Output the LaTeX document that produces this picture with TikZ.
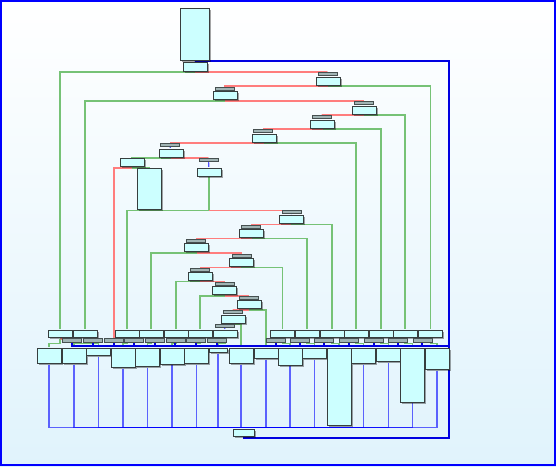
\documentclass[tikz,border=0pt]{standalone}
\usepackage{tikz}
\usepackage{xcolor}
\usetikzlibrary{shadows,backgrounds}

\definecolor{blockfill}{RGB}{204,255,255}
\definecolor{blockline}{RGB}{55,62,62}
\definecolor{hdrfill}{RGB}{160,180,180}
\definecolor{hdrline}{RGB}{70,80,80}
\definecolor{jmpblue}{RGB}{80,80,255}
\definecolor{farblue}{RGB}{0,0,225}
\definecolor{yesgreen}{RGB}{118,194,118}
\definecolor{nored}{RGB}{255,125,125}
\definecolor{bgblue}{RGB}{224,243,252}

\begin{document}
\begin{tikzpicture}[x=1pt, y=-1pt,
    blk/.style={rectangle, draw=blockline, fill=blockfill, line width=0.8pt, inner sep=0pt, outer ysep=1.2pt, minimum width=24pt, minimum height=8pt, drop shadow={shadow xshift=1.6pt, shadow yshift=-1.6pt, opacity=0.35, fill=black}},
    hdr/.style={rectangle, draw=hdrline, fill=hdrfill, line width=0.6pt, inner sep=0pt, minimum width=19pt, minimum height=3pt},
    jmpline/.style={draw=jmpblue, line width=1.2pt},
    retline/.style={draw=blue, line width=1.3pt, opacity=0.6},
    farline/.style={draw=farblue, line width=2pt},
    yesline/.style={draw=yesgreen, line width=1.7pt},
    noline/.style={draw=nored, line width=1.7pt}]
    \useasboundingbox (0,0) rectangle (556,466);
    \begin{scope}[on background layer]
        \shade[top color=white, bottom color=bgblue] (0,0) rectangle (556,466);
    \end{scope}

    % search tree
    \node[blk, minimum width=29pt, minimum height=52pt] (entry) at (194.5,34) {};
    \node[blk, minimum height=9pt] (b0) at (195,66.5) {};
    \node[hdr] (h1) at (327.5,73.5) {};
    \node[blk] (b1) at (328,81) {};
    \node[hdr] (h2) at (225,88.5) {};
    \node[blk] (b2) at (225,95.5) {};
    \node[hdr] (h3) at (364,102.5) {};
    \node[blk] (b3) at (364,110) {};
    \node[hdr] (h4) at (322,116.7) {};
    \node[blk] (b4) at (322.5,124) {};
    \node[hdr] (h5) at (263,131) {};
    \node[blk] (b5) at (264,138) {};
    \node[hdr] (h6) at (170,145) {};
    \node[blk] (b6) at (171,153) {};
    \node[blk] (b7) at (132,162.5) {};
    \node[blk, minimum height=41pt] (b8) at (149.5,188.7) {};
    \node[hdr] (h8) at (208.5,159.5) {};
    \node[blk] (b9) at (209,172) {};
    \node[hdr] (h10) at (291.5,212) {};
    \node[blk] (b10) at (291,219.3) {};
    \node[hdr] (h11) at (251,226.3) {};
    \node[blk] (b11) at (251.5,233.3) {};
    \node[hdr] (h12) at (196,240.3) {};
    \node[blk] (b12) at (196.5,247.7) {};
    \node[hdr] (h13) at (241.5,255.3) {};
    \node[blk] (b13) at (241.3,262.3) {};
    \node[hdr] (h14) at (200,269.3) {};
    \node[blk] (b14) at (200,276.3) {};
    \node[hdr] (h15) at (224.3,283.5) {};
    \node[blk] (b15) at (224.7,290.5) {};
    \node[hdr] (h16) at (249,297.5) {};
    \node[blk] (b16) at (249,304.7) {};
    \node[hdr] (h17) at (232.7,311.5) {};
    \node[blk] (b17) at (233,319) {};
    \node[hdr] (h18) at (224.5,326) {};

    % case blocks
    \node[blk, minimum height=7.5pt] (a1) at (60,333.7) {};
    \node[blk, minimum height=7.5pt] (a2) at (85,333.7) {};
    \node[blk, minimum height=7.5pt] (a3) at (127,333.7) {};
    \node[blk, minimum height=7.5pt] (a4) at (151,333.7) {};
    \node[blk, minimum height=7.5pt] (a5) at (176,333.7) {};
    \node[blk, minimum height=7.5pt] (a6) at (200,333.7) {};
    \node[blk, minimum height=7.5pt] (a7) at (225,333.7) {};
    \node[blk, minimum height=7.5pt] (a8) at (282.5,333.7) {};
    \node[blk, minimum height=7.5pt] (a9) at (307,333.7) {};
    \node[blk, minimum height=7.5pt] (a10) at (332,333.7) {};
    \node[blk, minimum height=7.5pt] (a11) at (356,333.7) {};
    \node[blk, minimum height=7.5pt] (a12) at (381,333.7) {};
    \node[blk, minimum height=7.5pt] (a13) at (405,333.7) {};
    \node[blk, minimum height=7.5pt] (a14) at (430.5,333.7) {};

    % jump stubs
    \node[hdr, minimum height=3.5pt] (r1) at (72.2,340.3) {};
    \node[hdr, minimum height=3.5pt] (r2) at (93,340.3) {};
    \node[hdr, minimum height=3.5pt] (r3) at (113.7,340.3) {};
    \node[hdr, minimum height=3.5pt] (r4) at (134,340.3) {};
    \node[hdr, minimum height=3.5pt] (r5) at (154.7,340.3) {};
    \node[hdr, minimum height=3.5pt] (r6) at (175.3,340.3) {};
    \node[hdr, minimum height=3.5pt] (r7) at (196,340.3) {};
    \node[hdr, minimum height=3.5pt] (r8) at (216.7,340.3) {};
    \node[hdr, minimum height=3.5pt] (r9) at (275.5,340.3) {};
    \node[hdr, minimum height=3.5pt] (r10) at (299.7,340.3) {};
    \node[hdr, minimum height=3.5pt] (r11) at (324.2,340.3) {};
    \node[hdr, minimum height=3.5pt] (r12) at (348.8,340.3) {};
    \node[hdr, minimum height=3.5pt] (r13) at (373.5,340.3) {};
    \node[hdr, minimum height=3.5pt] (r14) at (397.8,340.3) {};
    \node[hdr, minimum height=3.5pt] (r15) at (422.3,340.3) {};

    % case bodies
    \node[blk, anchor=north, minimum height=15pt] (c1) at (49,347.1) {};
    \node[blk, anchor=north, minimum height=15pt] (c2) at (74,347.1) {};
    \node[blk, anchor=north, minimum height=7pt] (c3) at (98.5,347.1) {};
    \node[blk, anchor=north, minimum height=19pt] (c4) at (123,347.1) {};
    \node[blk, anchor=north, minimum height=18.5pt] (c5) at (147.5,347.1) {};
    \node[blk, anchor=north, minimum height=15.7pt] (c6) at (172,347.1) {};
    \node[blk, anchor=north, minimum height=15pt] (c7) at (196.5,347.1) {};
    \node[blk, anchor=north, minimum width=18pt, minimum height=4.5pt] (c8) at (218,347.1) {};
    \node[blk, anchor=north, minimum height=15pt] (c9) at (241,347.1) {};
    \node[blk, anchor=north, minimum height=10pt] (c10) at (266,347.1) {};
    \node[blk, anchor=north, minimum height=16.7pt] (c11) at (290,347.1) {};
    \node[blk, anchor=north, minimum height=10pt] (c12) at (314.5,347.1) {};
    \node[blk, anchor=north, minimum height=77pt] (c13) at (339,347.1) {};
    \node[blk, anchor=north, minimum height=15pt] (c14) at (363.5,347.1) {};
    \node[blk, anchor=north, minimum height=13pt] (c15) at (388.5,347.1) {};
    \node[blk, anchor=north, minimum height=53.7pt] (c16) at (412.5,347.1) {};
    \node[blk, anchor=north, minimum height=21pt] (c17) at (437,347.1) {};

    \node[blk, minimum width=21pt, minimum height=7pt] (exit) at (243.5,432.5) {};

    \coordinate (loop) at (449,437.5);
    \coordinate (mrg) at (449,346);
    \coordinate (gy) at (0,343.5);

    \begin{scope}[on background layer]
        \draw[jmpline] (entry.south) -- (b0.north);
        \draw[farline] (entry.south) -| (loop) -| (exit.south);

        \draw[yesline] (b0.south) -| (a1.north);
        \draw[noline] (b0.south) -| (h1.north);
        \draw[jmpline] (h1) -- (b1);
        \draw[noline] (b1.south) -| (h2.north);
        \draw[yesline] (b1.south) -| (a14.north);
        \draw[jmpline] (h2) -- (b2);
        \draw[yesline] (b2.south) -| (a2.north);
        \draw[noline] (b2.south) -| (h3.north);
        \draw[jmpline] (h3) -- (b3);
        \draw[noline] (b3.south) -| (h4.north);
        \draw[yesline] (b3.south) -| (a13.north);
        \draw[jmpline] (h4) -- (b4);
        \draw[noline] (b4.south) -| (h5.north);
        \draw[yesline] (b4.south) -| (a12.north);
        \draw[jmpline] (h5) -- (b5);
        \draw[noline] (b5.south) -| (h6.north);
        \draw[yesline] (b5.south) -| (a11.north);
        \draw[jmpline] (h6) -- (b6);
        \draw[yesline] (b6.south) -| (b7.north);
        \draw[noline] (b6.south) -| (h8.north);
        \draw[noline] (b7.south) -| (r3.north);
        \draw[yesline] (b7.south) -| (b8.north);
        \draw[jmpline] (h8) -- (b9);
        \draw[yesline] (b8.south) -| (a3.north);
        \draw[yesline] (b9.south) -- (b9.south |- b8.south) -| (a3.north);
        \draw[noline] (b9.south |- b8.south) -| (h10.north);
        \draw[jmpline] (h10) -- (b10);
        \draw[noline] (b10.south) -| (h11.north);
        \draw[yesline] (b10.south) -| (a10.north);
        \draw[jmpline] (h11) -- (b11);
        \draw[noline] (b11.south) -| (h12.north);
        \draw[yesline] (b11.south) -| (a9.north);
        \draw[jmpline] (h12) -- (b12);
        \draw[yesline] (b12.south) -| (a4.north);
        \draw[noline] (b12.south) -| (h13.north);
        \draw[jmpline] (h13) -- (b13);
        \draw[noline] (b13.south) -| (h14.north);
        \draw[yesline] (b13.south) -| (a8.north);
        \draw[jmpline] (h14) -- (b14);
        \draw[yesline] (b14.south) -| (a5.north);
        \draw[noline] (b14.south) -| (h15.north);
        \draw[jmpline] (h15) -- (b15);
        \draw[yesline] (b15.south) -| (a6.north);
        \draw[noline] (b15.south) -| (h16.north);
        \draw[jmpline] (h16) -- (b16);
        \draw[noline] (b16.south) -| (h17.north);
        \draw[yesline] (b16.south) -| (c10.north);
        \draw[jmpline] (h17) -- (b17);
        \draw[noline] (b17.south) -| (h18.north);
        \draw[yesline] (b17.south) -| (c9.north);
        \draw[jmpline] (h18.south) -- (a7.north);

        % case blocks to stubs and bodies
        \draw[noline] (a1.south) -| (r1.north);
        \draw[noline] (a2.south) -| (r2.north);
        \draw[noline] (a3.south) -| (r4.north);
        \draw[noline] (a4.south) -| (r5.north);
        \draw[noline] (a5.south) -| (r6.north);
        \draw[noline] (a6.south) -| (r7.north);
        \draw[noline] (a7.south) -| (r8.north);
        \draw[noline] (a8.south) -| (r9.north);
        \draw[noline] (a9.south) -| (r10.north);
        \draw[noline] (a10.south) -| (r11.north);
        \draw[noline] (a11.south) -| (r12.north);
        \draw[noline] (a12.south) -| (r13.north);
        \draw[noline] (a13.south) -| (r14.north);
        \draw[noline] (a14.south) -| (r15.north);

        \draw[yesline] (a1.south) -- (a1.south |- gy) -| (c1.north);
        \draw[yesline] (a2.south) -- (a2.south |- gy) -| (c2.north);
        \draw[yesline] (a2.south |- gy) -| (c3.north);
        \draw[yesline] (a3.south) -- (a3.south |- gy) -| (c4.north);
        \draw[yesline] (a4.south) -- (a4.south |- gy) -| (c5.north);
        \draw[yesline] (a5.south) -- (a5.south |- gy) -| (c6.north);
        \draw[yesline] (a6.south) -- (a6.south |- gy) -| (c7.north);
        \draw[yesline] (a7.south) -- (a7.south |- gy) -| (c8.north);
        \draw[yesline] (a8.south) -- (a8.south |- gy) -| (c11.north);
        \draw[yesline] (a9.south) -- (a9.south |- gy) -| (c12.north);
        \draw[yesline] (a10.south) -- (a10.south |- gy) -| (c13.north);
        \draw[yesline] (a11.south) -- (a11.south |- gy) -| (c14.north);
        \draw[yesline] (a12.south) -- (a12.south |- gy) -| (c15.north);
        \draw[yesline] (a13.south) -- (a13.south |- gy) -| (c16.north);
        \draw[yesline] (a14.south) -- (a14.south |- gy) -| (c17.north);

        \draw[farline] (r1.south) |- (mrg);
        \draw[farline] (r2.south) |- (mrg);
        \draw[farline] (r3.south) |- (mrg);
        \draw[farline] (r4.south) |- (mrg);
        \draw[farline] (r5.south) |- (mrg);
        \draw[farline] (r6.south) |- (mrg);
        \draw[farline] (r7.south) |- (mrg);
        \draw[farline] (r8.south) |- (mrg);
        \draw[farline] (r9.south) |- (mrg);
        \draw[farline] (r10.south) |- (mrg);
        \draw[farline] (r11.south) |- (mrg);
        \draw[farline] (r12.south) |- (mrg);
        \draw[farline] (r13.south) |- (mrg);
        \draw[farline] (r14.south) |- (mrg);
        \draw[farline] (r15.south) |- (mrg);

        % bodies to exit
        \draw[retline] (c1.south) |- (exit.north);
        \draw[retline] (c2.south) |- (exit.north);
        \draw[retline] (c3.south) |- (exit.north);
        \draw[retline] (c4.south) |- (exit.north);
        \draw[retline] (c5.south) |- (exit.north);
        \draw[retline] (c6.south) |- (exit.north);
        \draw[retline] (c7.south) |- (exit.north);
        \draw[retline] (c8.south) |- (exit.north);
        \draw[retline] (c9.south) |- (exit.north);
        \draw[retline] (c10.south) |- (exit.north);
        \draw[retline] (c11.south) |- (exit.north);
        \draw[retline] (c12.south) |- (exit.north);
        \draw[retline] (c13.south) |- (exit.north);
        \draw[retline] (c14.south) |- (exit.north);
        \draw[retline] (c15.south) |- (exit.north);
        \draw[retline] (c16.south) |- (exit.north);
        \draw[retline] (c17.south) |- (exit.north);
    \end{scope}

    \draw[blue, line width=2pt] (1,1) rectangle (555,465);
\end{tikzpicture}
\end{document}
